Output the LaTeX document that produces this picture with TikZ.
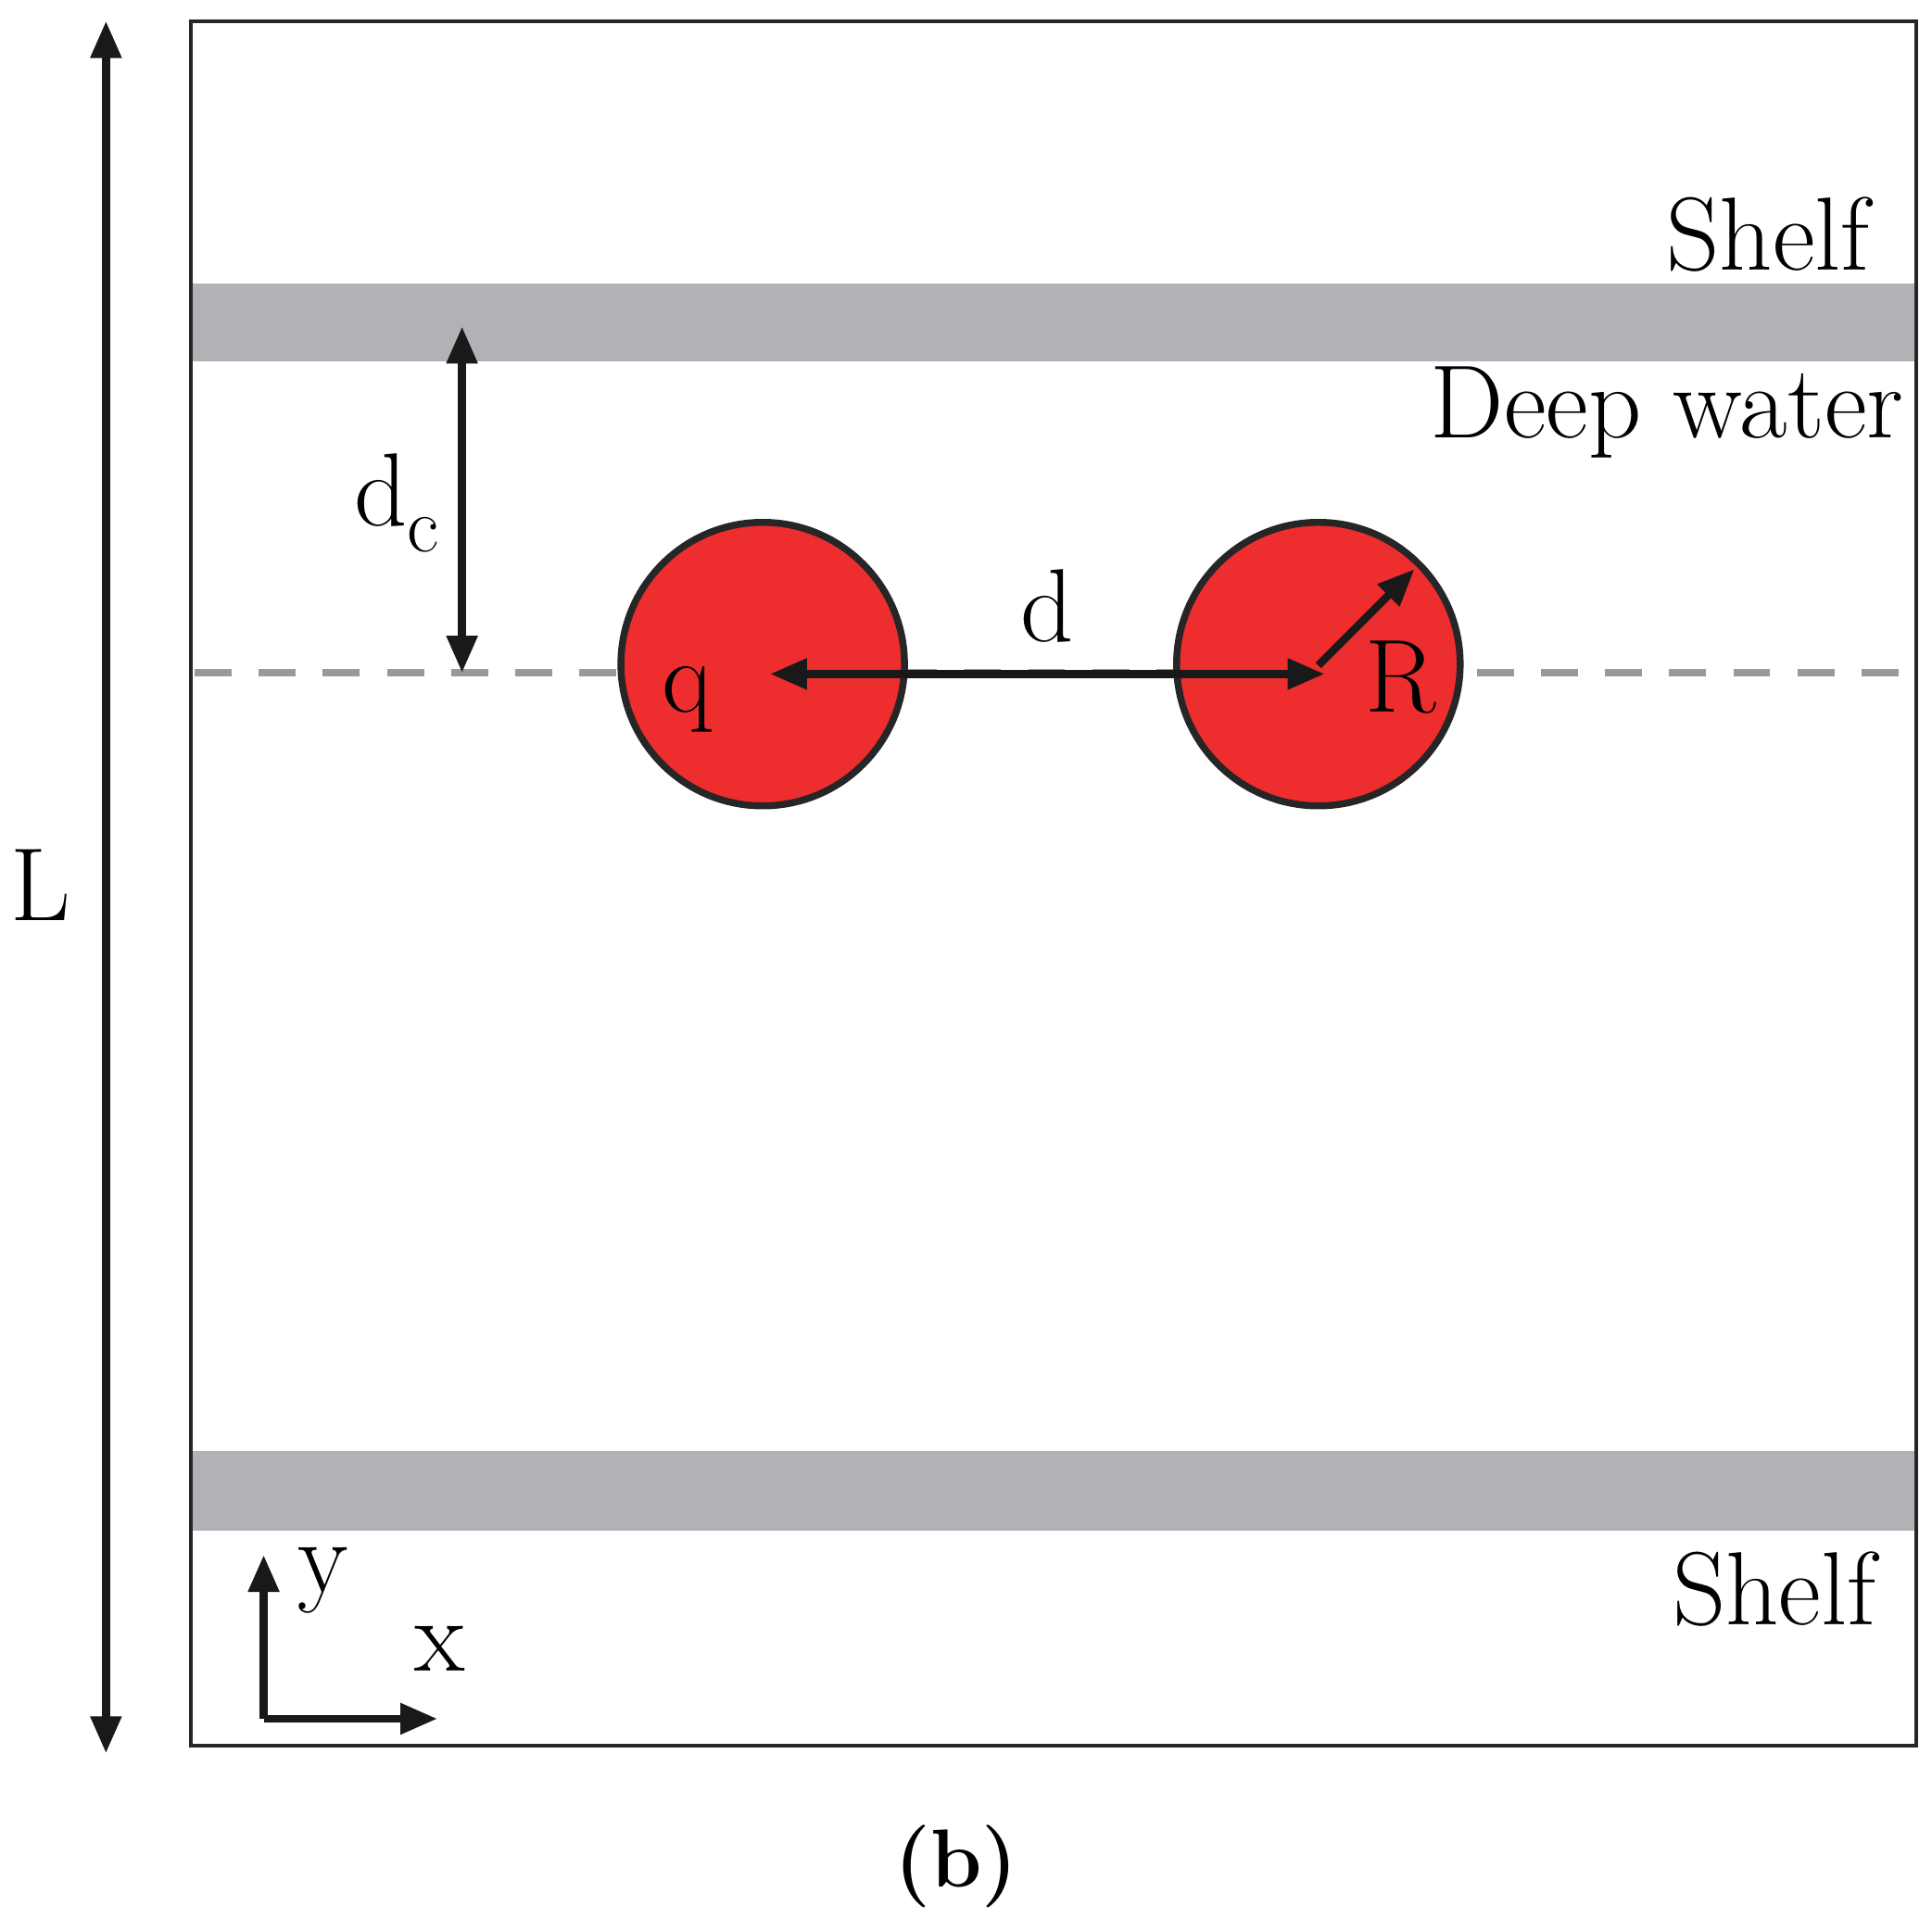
\documentclass[tikz,border=0pt]{standalone}
\usetikzlibrary{arrows.meta}
\definecolor{dred}{RGB}{238,45,46}
\definecolor{band}{RGB}{177,178,181}
\begin{document}
\begin{tikzpicture}[x=0.01cm,y=-0.01cm,
  arr/.style={line width=1.8pt,draw=black!90,{Triangle[length=0.3cm,width=0.24cm]}-{Triangle[length=0.3cm,width=0.24cm]}},
  lab/.style={font=\fontsize{24}{28}\selectfont,inner sep=0pt},
  disk/.style={circle,fill=dred,draw=black!85,line width=1.6pt,minimum size=2.3cm,inner sep=0pt}]
\useasboundingbox (0,0) rectangle (1568,1556);
\fill[band] (155,230) rectangle (1555,293);
\fill[band] (155,1178) rectangle (1555,1242);
\draw[line width=0.9pt,black!85] (155,17) rectangle (1555,1417);
\draw[black!40,line width=1.6pt,dash pattern=on 0.3cm off 0.22cm] (158,546) -- (1555,546);
\node[disk] (c1) at (619,539) {};
\node[disk] (c2) at (1070,539) {};
\coordinate (dl) at (625,547); \coordinate (dr) at (1075,547);
\draw[arr] (dl) -- (dr);
\coordinate (rc) at (1070,540); \coordinate (re) at (1148,462);
\draw[line width=1.8pt,black!90,-{Triangle[length=0.3cm,width=0.24cm]}] (rc) -- (re);
\coordinate (dt) at (375,265); \coordinate (db) at (375,546);
\draw[arr] (dt) -- (db);
\coordinate (lt) at (86,17); \coordinate (lb) at (86,1423);
\draw[arr] (lt) -- (lb);
\coordinate (o) at (214,1395); \coordinate (oy) at (214,1262); \coordinate (ox) at (355,1395);
\draw[line width=1.8pt,black!90,-{Triangle[length=0.3cm,width=0.24cm]}] (o) -- (oy);
\draw[line width=1.8pt,black!90,-{Triangle[length=0.3cm,width=0.24cm]}] (o) -- (ox);
\node[lab] (ld) at (850,492) {d};
\node[lab] (lq) at (558,568) {q};
\node[lab] (lR) at (1137,550) {R};
\node[lab] (ldc) at (322,408) {d\raisebox{-0.25em}{\fontsize{18}{20}\selectfont c}};
\node[lab] (lL) at (33,718) {L};
\node[lab] (ly) at (262,1283) {y};
\node[lab] (lx) at (357,1338) {x};
\node[lab] (s1) at (1435,190) {Shelf};
\node[lab] (dw) at (1353,335) {Deep water};
\node[lab] (s2) at (1440,1290) {Shelf};
\node[lab,font=\fontsize{19}{22}\selectfont] (b) at (776,1515) {\textbf{(b)}};
\end{tikzpicture}
\end{document}
